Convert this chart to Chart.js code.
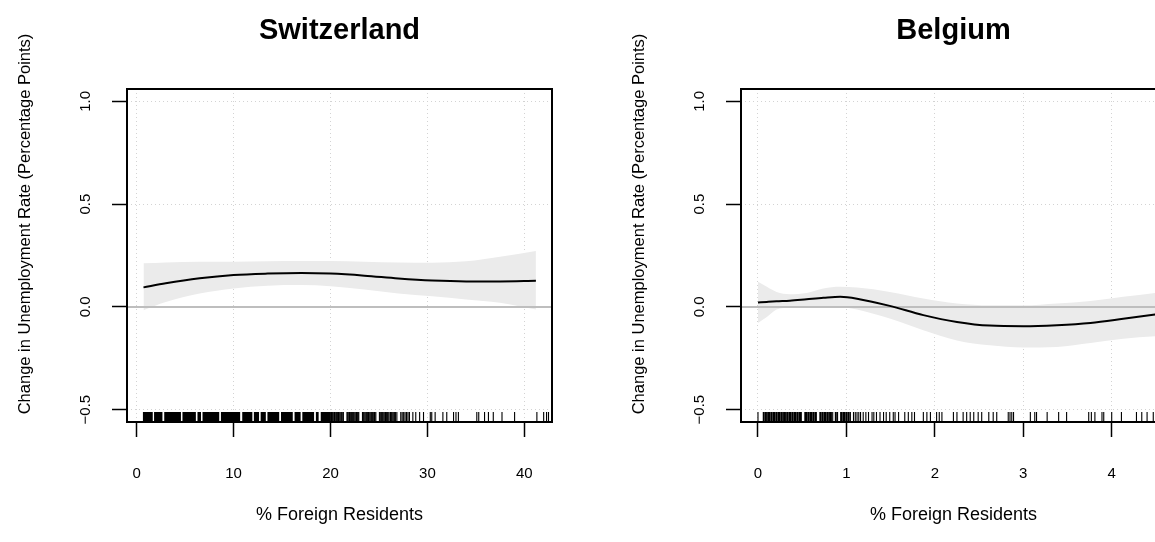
<!DOCTYPE html>
<html>
<head>
<meta charset="utf-8">
<script src="https://cdn.jsdelivr.net/npm/chart.js@4.4.1/dist/chart.umd.min.js"></script>
<style>
  html, body { margin: 0; padding: 0; background: #fff; }
  #figure { position: relative; width: 1155px; height: 542px; overflow: hidden; background: #fff; }
  #figure canvas { position: absolute; top: 0; }
</style>
</head>
<body>
<div id="figure">
  <canvas id="swiss" width="614" height="542" style="left:0;width:614px;height:542px"></canvas>
  <canvas id="belgium" width="614" height="542" style="left:614px;width:614px;height:542px"></canvas>
</div>
<script>
// Shared axis text and ticks
const AXIS_TITLE_Y = 'Change in Unemployment Rate (Percentage Points)';
const AXIS_TITLE_X = '% Foreign Residents';
const Y_TICKS = [-0.5, 0, 0.5, 1.0];
const Y_MIN = -0.56;
const Y_MAX = 1.06;

// Switzerland: smoothed effect with confidence band, plus observed values (rug)
const SWISS_TITLE = 'Switzerland';
const SWISS_X_TICKS = [0, 10, 20, 30, 40];
const SWISS_X_MIN = -1.0;
const SWISS_X_MAX = 42.86;
const SWISS_X = [0.7, 3, 6.5, 10, 13.5, 17, 20, 23.5, 27, 30.5, 34, 37.5, 41.2];
const SWISS_FIT = [0.095, 0.115, 0.139, 0.155, 0.162, 0.165, 0.162, 0.152, 0.138, 0.128, 0.124, 0.124, 0.127];
const SWISS_UPPER = [0.212, 0.216, 0.219, 0.22, 0.222, 0.223, 0.223, 0.22, 0.216, 0.215, 0.222, 0.244, 0.272];
const SWISS_LOWER = [-0.016, 0.024, 0.065, 0.09, 0.103, 0.106, 0.101, 0.085, 0.065, 0.052, 0.036, 0.02, -0.013];
const SWISS_RUG = [
  0.70, 0.78, 0.86, 0.95, 1.02, 1.1, 1.19, 1.27, 1.35, 1.44, 1.52, 1.6, 1.85, 1.93, 2.01, 2.1, 2.18, 2.27,
  2.35, 2.44, 2.52, 2.6, 2.9, 2.98, 3.06, 3.15, 3.23, 3.32, 3.4, 3.49, 3.57, 3.66, 3.74, 3.83, 3.91, 4.0,
  4.08, 4.17, 4.25, 4.34, 4.42, 4.51, 4.78, 4.86, 4.95, 5.03, 5.12, 5.2, 5.29, 5.37, 5.46, 5.54, 5.63, 5.71,
  5.8, 5.88, 5.97, 6.05, 6.33, 6.41, 6.5, 6.58, 6.85, 6.93, 7.02, 7.1, 7.19, 7.27, 7.36, 7.44, 7.53, 7.61,
  7.7, 7.78, 7.87, 7.95, 8.04, 8.12, 8.21, 8.29, 8.38, 8.46, 8.75, 8.83, 8.92, 9.0, 9.09, 9.17, 9.26, 9.34,
  9.43, 9.51, 9.6, 9.68, 9.77, 9.85, 9.94, 10.02, 10.11, 10.19, 10.28, 10.36, 10.45, 10.53, 10.62, 10.95,
  11.03, 11.12, 11.2, 11.29, 11.37, 11.46, 11.54, 11.63, 11.71, 11.8, 11.88, 12.15, 12.23, 12.32, 12.4,
  12.49, 12.57, 12.85, 12.93, 13.02, 13.1, 13.19, 13.27, 13.55, 13.63, 13.72, 13.8, 13.89, 13.97, 14.06,
  14.14, 14.23, 14.31, 14.4, 14.48, 14.57, 14.65, 14.95, 15.03, 15.12, 15.2, 15.29, 15.37, 15.46, 15.54,
  15.63, 15.71, 15.8, 15.88, 15.97, 16.05, 16.35, 16.43, 16.52, 16.6, 16.69, 16.77, 16.86, 17.15, 17.23,
  17.32, 17.4, 17.49, 17.57, 17.66, 17.74, 17.83, 17.91, 18.0, 18.08, 18.17, 18.25, 18.55, 18.63, 18.72,
  19.05, 19.13, 19.22, 19.3, 19.39, 19.47, 19.56, 19.64, 19.73, 19.81, 19.9, 19.98, 20.1, 20.22, 20.35,
  20.45, 20.58, 20.7, 20.82, 20.95, 21.08, 21.2, 21.33, 21.7, 21.82, 21.95, 22.05, 22.18, 22.3, 22.42,
  22.55, 22.68, 22.8, 22.92, 23.3, 23.42, 23.55, 23.68, 23.8, 23.92, 24.05, 24.18, 24.3, 24.42, 24.55,
  24.68, 25.05, 25.18, 25.3, 25.42, 25.55, 25.68, 25.8, 25.92, 26.05, 26.2, 26.32, 26.45, 26.58, 26.7,
  26.85, 27.25, 27.4, 27.55, 27.7, 27.85, 28.0, 28.15, 28.5, 28.8, 29.2, 29.6, 30.3, 30.45, 30.8, 31.6,
  32.0, 32.7, 32.95, 33.2, 35.1, 35.3, 35.9, 36.3, 36.8, 37.7, 39.0, 41.3, 42.0, 42.3, 42.5
];

// Belgium
const BELGIUM_TITLE = 'Belgium';
const BELGIUM_X_TICKS = [0, 1, 2, 3, 4];
const BELGIUM_X_MIN = -0.192;
const BELGIUM_X_MAX = 4.614;
const BELGIUM_X = [0.0, 0.1, 0.21, 0.36, 0.55, 0.74, 0.93, 1.12, 1.49, 1.87, 2.25, 2.62, 3.0, 3.38, 3.76, 4.13, 4.49, 4.6];
const BELGIUM_FIT = [0.021, 0.024, 0.027, 0.03, 0.037, 0.044, 0.049, 0.04, 0.005, -0.04, -0.073, -0.091, -0.094, -0.089, -0.078, -0.058, -0.037, -0.03];
const BELGIUM_UPPER = [0.122, 0.098, 0.073, 0.062, 0.068, 0.09, 0.098, 0.094, 0.073, 0.041, 0.017, 0.008, 0.008, 0.017, 0.029, 0.049, 0.068, 0.074];
const BELGIUM_LOWER = [-0.078, -0.049, -0.013, -0.003, 0.003, 0.003, 0.0, -0.013, -0.057, -0.114, -0.163, -0.187, -0.198, -0.195, -0.176, -0.155, -0.143, -0.14];
const BELGIUM_RUG = [
  0.0, 0.06, 0.07, 0.085, 0.095, 0.11, 0.12, 0.13, 0.145, 0.155, 0.17, 0.18, 0.19, 0.205, 0.215, 0.23,
  0.24, 0.25, 0.265, 0.275, 0.29, 0.3, 0.31, 0.325, 0.335, 0.35, 0.36, 0.37, 0.385, 0.395, 0.41, 0.42,
  0.43, 0.445, 0.455, 0.47, 0.48, 0.49, 0.53, 0.54, 0.55, 0.565, 0.575, 0.59, 0.6, 0.61, 0.625, 0.635,
  0.65, 0.66, 0.7, 0.71, 0.725, 0.735, 0.75, 0.76, 0.77, 0.785, 0.795, 0.81, 0.82, 0.83, 0.845, 0.875,
  0.885, 0.9, 0.935, 0.945, 0.96, 0.97, 0.98, 0.995, 1.005, 1.02, 1.03, 1.045, 1.08, 1.1, 1.12, 1.14,
  1.16, 1.19, 1.22, 1.25, 1.29, 1.31, 1.34, 1.38, 1.42, 1.45, 1.49, 1.53, 1.55, 1.59, 1.66, 1.7, 1.74,
  1.77, 1.87, 1.91, 1.95, 2.02, 2.05, 2.08, 2.21, 2.25, 2.32, 2.36, 2.4, 2.44, 2.49, 2.53, 2.61, 2.66,
  2.7, 2.83, 2.85, 2.87, 2.89, 3.08, 3.13, 3.15, 3.27, 3.4, 3.49, 3.74, 3.77, 3.81, 3.89, 3.91, 4.0,
  4.11, 4.28, 4.34, 4.4, 4.47
];

const FONT = "'Liberation Sans', Arial, Helvetica, sans-serif";
Chart.defaults.font.family = FONT;
Chart.defaults.color = '#000';

// Plot frame inside each panel canvas (px)
const FRAME = { left: 127, top: 89, right: 552, bottom: 422 };

function pairs(xs, ys) {
  return xs.map((x, i) => ({ x: x, y: ys[i] }));
}

// Rug marks, frame, panel heading and vertical axis label
const panelDecor = {
  id: 'panelDecor',
  afterDatasetsDraw(chart, args, opts) {
    const ctx = chart.ctx;
    const a = chart.chartArea;
    const xs = chart.scales.x;
    const len = 0.03 * (a.bottom - a.top);
    ctx.save();
    ctx.strokeStyle = '#000';
    ctx.lineWidth = 1.1;
    ctx.beginPath();
    opts.rug.forEach(v => {
      const px = xs.getPixelForValue(v);
      ctx.moveTo(px, a.bottom);
      ctx.lineTo(px, a.bottom - len);
    });
    ctx.stroke();
    ctx.lineWidth = 2;
    ctx.strokeRect(a.left, a.top, a.right - a.left, a.bottom - a.top);
    ctx.fillStyle = '#000';
    ctx.font = 'bold 29px ' + FONT;
    ctx.textAlign = 'center';
    ctx.textBaseline = 'alphabetic';
    ctx.fillText(opts.title, (a.left + a.right) / 2, 39);
    // y label sits a little above the frame's middle
    ctx.font = '16.5px ' + FONT;
    ctx.textBaseline = 'middle';
    ctx.translate(25, 224);
    ctx.rotate(-Math.PI / 2);
    ctx.fillText(opts.yTitle, 0, 0);
    ctx.restore();
  }
};

function makePanel(id, title, xs, fit, upper, lower, rug, xTicks, xMin, xMax) {
  const canvas = document.getElementById(id);
  const gridOpts = { color: '#D3D3D3', lineWidth: 1, drawTicks: true, tickLength: 15, tickColor: '#000', tickWidth: 1.5 };
  return new Chart(canvas, {
    type: 'line',
    data: {
      datasets: [
        { label: 'fit', data: pairs(xs, fit), borderColor: '#000', borderWidth: 2, pointRadius: 0,
          cubicInterpolationMode: 'monotone', fill: false },
        { label: 'zero', data: [{ x: xMin, y: 0 }, { x: xMax, y: 0 }], borderColor: '#BEBEBE', borderWidth: 2,
          pointRadius: 0, fill: false },
        { label: 'upper', data: pairs(xs, upper), borderColor: 'rgba(0,0,0,0)', borderWidth: 1,
          backgroundColor: '#EBEBEB', pointRadius: 0, cubicInterpolationMode: 'monotone', fill: '+1' },
        { label: 'lower', data: pairs(xs, lower), borderColor: 'rgba(0,0,0,0)', borderWidth: 1,
          pointRadius: 0, cubicInterpolationMode: 'monotone', fill: false }
      ]
    },
    options: {
      responsive: false,
      animation: false,
      events: [],
      layout: { padding: { top: FRAME.top, left: 0, right: canvas.width - FRAME.right, bottom: 0 } },
      plugins: {
        legend: { display: false },
        tooltip: { enabled: false },
        panelDecor: { title: title, rug: rug, yTitle: AXIS_TITLE_Y }
      },
      scales: {
        x: {
          type: 'linear', position: 'bottom', min: xMin, max: xMax,
          afterBuildTicks: s => { s.ticks = xTicks.map(v => ({ value: v })); },
          afterFit: s => { s.height = canvas.height - FRAME.bottom; },
          grid: gridOpts,
          border: { display: false, dash: [1, 3] },
          ticks: { font: { size: 15 }, padding: 28, maxRotation: 0, autoSkip: false, callback: v => String(v) },
          title: { display: true, text: AXIS_TITLE_X, font: { size: 18 }, padding: { top: 0, bottom: 16 } }
        },
        y: {
          type: 'linear', position: 'left', min: Y_MIN, max: Y_MAX,
          afterBuildTicks: s => { s.ticks = Y_TICKS.map(v => ({ value: v })); },
          afterFit: s => { s.width = FRAME.left; },
          grid: gridOpts,
          border: { display: false, dash: [1, 3] },
          ticks: { font: { size: 15 }, padding: 11, minRotation: 90, maxRotation: 90, crossAlign: 'center',
                   autoSkip: false, callback: v => Number(v).toFixed(1).replace('-', '\u2212') },
          title: { display: false }
        }
      }
    },
    plugins: [panelDecor]
  });
}

makePanel('swiss', SWISS_TITLE, SWISS_X, SWISS_FIT, SWISS_UPPER, SWISS_LOWER, SWISS_RUG,
          SWISS_X_TICKS, SWISS_X_MIN, SWISS_X_MAX);
makePanel('belgium', BELGIUM_TITLE, BELGIUM_X, BELGIUM_FIT, BELGIUM_UPPER, BELGIUM_LOWER, BELGIUM_RUG,
          BELGIUM_X_TICKS, BELGIUM_X_MIN, BELGIUM_X_MAX);
</script>
</body>
</html>
